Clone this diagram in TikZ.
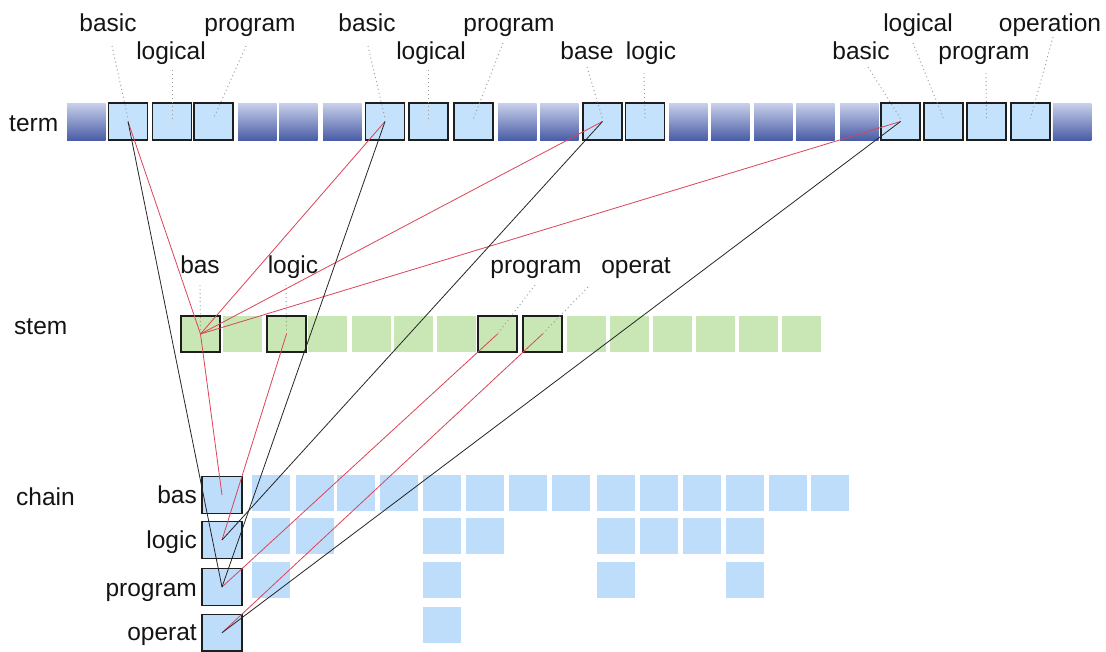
\documentclass[tikz,border=0pt]{standalone}
\usepackage{fontspec}
\setmainfont{Liberation Sans}
\usetikzlibrary{calc}
\definecolor{termtop}{HTML}{C8D0EA}
\definecolor{termbot}{HTML}{4A5DA7}
\definecolor{selblue}{HTML}{C4E2FB}
\definecolor{chainblue}{HTML}{BDDDFA}
\definecolor{stemgreen}{HTML}{C8E7B4}
\definecolor{boxline}{HTML}{1E1E1E}
\definecolor{redln}{HTML}{DC4457}
\definecolor{blkln}{HTML}{262626}
\definecolor{dotln}{HTML}{9A9A9A}
\tikzset{
  lbl/.style={font=\fontsize{24.5}{28}\selectfont, text=black!92, inner sep=0pt},
  gcell/.style={rectangle, minimum width=38.5pt, minimum height=37pt, inner sep=0pt,
    top color=termtop, bottom color=termbot, draw=none},
  tsel/.style={rectangle, minimum width=39pt, minimum height=37pt, inner sep=0pt,
    fill=selblue, draw=boxline, line width=1.1pt},
  scell/.style={rectangle, minimum width=39pt, minimum height=36pt, inner sep=0pt,
    fill=stemgreen, draw=none},
  ssel/.style={scell, draw=boxline, line width=1.1pt},
  ccell/.style={rectangle, minimum width=38pt, minimum height=36pt, inner sep=0pt,
    fill=chainblue, draw=none},
  csel/.style={rectangle, minimum width=40pt, minimum height=36.5pt, inner sep=0pt,
    fill=chainblue, draw=boxline, line width=1.1pt},
  redlink/.style={draw=redln, line width=0.8pt},
  blklink/.style={draw=blkln, line width=0.8pt},
  dotlink/.style={draw=dotln, line width=0.9pt, dash pattern=on 1pt off 3pt},
}
\begin{document}
\begin{tikzpicture}[x=1pt,y=-1pt]
\useasboundingbox (0,0) rectangle (1106,651);
\fill[white] (0,0) rectangle (1106,651);

% ---------- term row ----------
\foreach \n/\x in {1/86.25,5/257.25,6/298.25,7/342.25,11/517.25,12/559.25,15/688.25,16/730.25,17/773.25,18/815.25,19/859.25,24/1072}
  \node[gcell] (t\n) at (\x,121.5) {};
\foreach \n/\x in {2/128,3/172,4/213.5,8/385,9/428.5,10/473.5,13/602.5,14/645,20/900.5,21/943.5,22/986.5,23/1030.5}
  \node[tsel] (t\n) at (\x,121.5) {};

% ---------- stem row ----------
\foreach \n/\x in {2/242.5,4/327.5,5/371.5,6/413.5,7/456.5,10/586.5,11/629.5,12/672.5,13/715.5,14/758.5,15/801.5}
  \node[scell] (s\n) at (\x,334) {};
\foreach \n/\x in {1/200.5,3/286.5,8/497.5,9/542.5}
  \node[ssel] (s\n) at (\x,334) {};

% ---------- chain grid ----------
\foreach \c/\x in {1/271,2/315,3/356,4/399,5/442,6/485,7/528,8/571,9/616,10/659,11/702,12/745,13/788,14/830}
  \node[ccell] (g1-\c) at (\x,493) {};
\foreach \c/\x in {1/271,2/315,5/442,6/485,9/616,10/659,11/702,12/745}
  \node[ccell] (g2-\c) at (\x,535.5) {};
\foreach \c/\x in {1/271,5/442,9/616,12/745}
  \node[ccell] (g3-\c) at (\x,579.5) {};
\node[ccell] (g4-5) at (442,624.5) {};

\node[csel] (cb) at (222,495) {};
\node[csel] (cl) at (222,540) {};
\node[csel] (cp) at (222,587) {};
\node[csel] (co) at (222,632.75) {};

% ---------- row titles ----------
\node[lbl, anchor=base west] (lterm) at (9,131) {term};
\node[lbl, anchor=base west] (lstem) at (14,334) {stem};
\node[lbl, anchor=base west] (lchain) at (16,505) {chain};

% ---------- chain labels ----------
\node[lbl, anchor=base east] (kb) at (197,503) {bas};
\node[lbl, anchor=base east] (kl) at (197,548) {logic};
\node[lbl, anchor=base east] (kp) at (197,596) {program};
\node[lbl, anchor=base east] (ko) at (197,640) {operat};

% ---------- term labels ----------
\node[lbl, anchor=base] (a2) at (108,31) {basic};
\node[lbl, anchor=base] (a3) at (171,59) {logical};
\node[lbl, anchor=base] (a4) at (250,31) {program};
\node[lbl, anchor=base] (a8) at (367,31) {basic};
\node[lbl, anchor=base] (a9) at (431,59) {logical};
\node[lbl, anchor=base] (a10) at (509,31) {program};
\node[lbl, anchor=base] (a13) at (587,59) {base};
\node[lbl, anchor=base] (a14) at (651,59) {logic};
\node[lbl, anchor=base] (a20) at (861,59) {basic};
\node[lbl, anchor=base] (a21) at (918,31) {logical};
\node[lbl, anchor=base] (a22) at (984,59) {program};
\node[lbl, anchor=base] (a23) at (1050,31) {operation};

% ---------- stem labels ----------
\node[lbl, anchor=base] (b1) at (200,273) {bas};
\node[lbl, anchor=base] (b3) at (293,273) {logic};
\node[lbl, anchor=base] (b8) at (536,273) {program};
\node[lbl, anchor=base] (b9) at (636,273) {operat};

% ---------- dotted leaders ----------
\coordinate (d2) at (112,46);
\coordinate (d3) at (172,70);
\coordinate (d4) at (246,46);
\coordinate (d8) at (368,46);
\coordinate (d9) at (428.5,70);
\coordinate (d10) at (503,43);
\coordinate (d13) at (587,67);
\coordinate (d14) at (644,73);
\coordinate (d20) at (868,67);
\coordinate (d21) at (913,43);
\coordinate (d22) at (986,73);
\coordinate (d23) at (1053,37);
\foreach \n in {2,3,4,8,9,10,13,14,20,21,22,23}
  \draw[dotlink] (d\n) -- ($(t\n.center)+(0,-3)$);
\coordinate (e1) at (200,285);
\coordinate (e3) at (286,285);
\coordinate (e8) at (535,285);
\coordinate (e9) at (588,287);
\foreach \n in {1,3,8,9}
  \draw[dotlink] (e\n) -- (s\n.center);

% ---------- links ----------
\draw[redlink] (t2.center) -- (s1.center);
\draw[redlink] (t8.center) -- (s1.center);
\draw[redlink] (t13.center) -- (s1.center);
\draw[redlink] (t20.center) -- (s1.center);
\draw[redlink] (s1.center) -- (cb.center);
\draw[redlink] (s3.center) -- (cl.center);
\draw[redlink] (s8.center) -- (cp.center);
\draw[redlink] (s9.center) -- (co.center);
\draw[blklink] (t2.center) -- (cp.center);
\draw[blklink] (t8.center) -- (cp.center);
\draw[blklink] (t13.center) -- (cl.center);
\draw[blklink] (t20.center) -- (co.center);
\end{tikzpicture}
\end{document}
